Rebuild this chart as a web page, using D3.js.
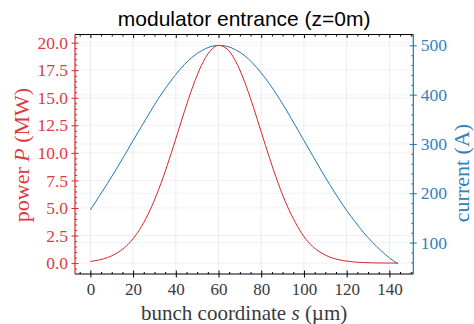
<!DOCTYPE html>
<html>
<head>
<meta charset="utf-8">
<script src="https://cdn.jsdelivr.net/npm/d3@7"></script>
<style>
  body { margin: 0; background: #fff; }
  text { font-family: 'Liberation Serif', serif; }
</style>
</head>
<body>
<svg id="chart"></svg>
<script>
/* données */
const sPos = [0,4,8,12,16,20,24,28,32,36,40,44,48,52,56,60,64,68,72,76,80,84,88,92,96,100,104,108,112,116,120,124,128,132,136,140,144]
const power = [0.15,0.28,0.50,0.86,1.41,2.22,3.34,4.83,6.69,8.87,11.28,13.74,16.04,17.94,19.22,19.75,19.43,18.32,16.56,14.34,11.90,9.46,7.21,5.26,3.68,2.40,1.52,0.94,0.55,0.32,0.18,0.09,0.05,0.02,0.01,0.005,0]
const current = [166,193,220,248,277,307,336,365,393,418,441,461,477,489,497,500,498,491,480,464,444,421,395,367,337,307,277,247,218,191,165,142,120,101,84,69,57]

const xTicks = [0,20,40,60,80,100,120,140]
const powerTicks = [0,2.5,5,7.5,10,12.5,15,17.5,20]
const currentTicks = [100,200,300,400,500]

const title = 'modulator entrance (z=0m)'

const red = '#d62728', blue = '#1f77b4'
const redText = '#dc3a3f', blueText = '#2f82bd'

const width = 474, height = 324
const margin = {top: 34.5, right: 60.7, bottom: 50, left: 75}

const svg = d3.select('#chart').attr('width', width).attr('height', height)

/* échelles */
const xScale = d3.scaleLinear().domain([-7.2, 151.2]).range([margin.left, width - margin.right])
const yP = d3.scaleLinear().domain([-0.99, 20.74]).range([height - margin.bottom, margin.top])
const yI = d3.scaleLinear().domain([36.3, 522]).range([height - margin.bottom, margin.top])

const x0 = margin.left, x1 = width - margin.right
const y0 = height - margin.bottom, y1 = margin.top

/* grilles */
const grid = svg.append('g')
grid.selectAll('.gx').data(xTicks).enter().append('line')
    .attr('x1', d => xScale(d)).attr('x2', d => xScale(d))
    .attr('y1', y1).attr('y2', y0)
    .attr('stroke', '#000').attr('stroke-opacity', 0.07)
grid.selectAll('.gp').data(powerTicks).enter().append('line')
    .attr('x1', x0).attr('x2', x1)
    .attr('y1', d => yP(d)).attr('y2', d => yP(d))
    .attr('stroke', red).attr('stroke-opacity', 0.08)
grid.selectAll('.gi').data(currentTicks).enter().append('line')
    .attr('x1', x0).attr('x2', x1)
    .attr('y1', d => yI(d)).attr('y2', d => yI(d))
    .attr('stroke', blue).attr('stroke-opacity', 0.08)

/* courbes */
const pts = sPos.map((s, i) => ({s: s, p: power[i], c: current[i]}))
svg.append('path').datum(pts)
    .attr('fill', 'none').attr('stroke', red).attr('stroke-width', 1)
    .attr('d', d3.line().x(d => xScale(d.s)).y(d => yP(d.p)).curve(d3.curveMonotoneX))
svg.append('path').datum(pts)
    .attr('fill', 'none').attr('stroke', blue).attr('stroke-width', 1)
    .attr('d', d3.line().x(d => xScale(d.s)).y(d => yI(d.c)).curve(d3.curveMonotoneX))

/* axes */
const fixMajor = (g, horiz) => {
    g.select('.domain').remove()
    g.selectAll('.tick line').each(function() {
        const l = d3.select(this)
        if (horiz) l.attr('y1', -3.5).attr('y2', 3.5)
        else l.attr('x1', -3.5).attr('x2', 3.5)
    })
}

const minorX = d3.range(-5, 151, 5).filter(d => d % 20 != 0)
const minorP = d3.range(-0.5, 20.6, 0.5).filter(d => Math.abs(d / 2.5 - Math.round(d / 2.5)) > 1e-6)
const minorI = d3.range(40, 521, 20).filter(d => d % 100 != 0)

// bas
const gx = svg.append('g').attr('transform', 'translate(0,' + y0 + ')')
    .call(d3.axisBottom(xScale).tickValues(xTicks).tickFormat(d3.format('d')).tickSize(3.5).tickPadding(5))
fixMajor(gx, true)
gx.selectAll('text').attr('font-size', 17).attr('fill', '#3a3a3a').attr('font-family', "'Liberation Serif', serif")
svg.append('g').attr('transform', 'translate(0,' + y0 + ')')
    .call(d3.axisBottom(xScale).tickValues(minorX).tickFormat('').tickSize(-2))
    .call(g => g.select('.domain').remove())

// haut
svg.append('g').attr('transform', 'translate(0,' + y1 + ')')
    .call(d3.axisTop(xScale).tickValues(xTicks).tickFormat('').tickSize(-3.5))
    .call(g => g.select('.domain').remove())
svg.append('g').attr('transform', 'translate(0,' + y1 + ')')
    .call(d3.axisTop(xScale).tickValues(minorX).tickFormat('').tickSize(-2))
    .call(g => g.select('.domain').remove())

// gauche
const gl = svg.append('g').attr('transform', 'translate(' + x0 + ',0)')
    .call(d3.axisLeft(yP).tickValues(powerTicks).tickFormat(d3.format('.1f')).tickSize(3.5).tickPadding(3.5))
fixMajor(gl, false)
gl.selectAll('line').attr('stroke', red)
gl.selectAll('text').attr('font-size', 17.5).attr('fill', redText).attr('font-family', "'Liberation Serif', serif")
svg.append('g').attr('transform', 'translate(' + x0 + ',0)')
    .call(d3.axisLeft(yP).tickValues(minorP).tickFormat('').tickSize(-2))
    .call(g => { g.select('.domain').remove(); g.selectAll('line').attr('stroke', red) })

// droite
const gr = svg.append('g').attr('transform', 'translate(' + x1 + ',0)')
    .call(d3.axisRight(yI).tickValues(currentTicks).tickFormat(d3.format('d')).tickSize(3.5).tickPadding(4))
fixMajor(gr, false)
gr.selectAll('line').attr('stroke', blue)
gr.selectAll('text').attr('font-size', 17.5).attr('fill', blueText).attr('font-family', "'Liberation Serif', serif")
svg.append('g').attr('transform', 'translate(' + x1 + ',0)')
    .call(d3.axisRight(yI).tickValues(minorI).tickFormat('').tickSize(-2))
    .call(g => { g.select('.domain').remove(); g.selectAll('line').attr('stroke', blue) })

/* cadre */
svg.append('line').attr('x1', x0).attr('x2', x1).attr('y1', y1).attr('y2', y1).attr('stroke', '#000').attr('stroke-width', 1.2)
svg.append('line').attr('x1', x0).attr('x2', x1).attr('y1', y0).attr('y2', y0).attr('stroke', '#000').attr('stroke-width', 1.2)
svg.append('line').attr('x1', x0).attr('x2', x0).attr('y1', y1).attr('y2', y0).attr('stroke', red).attr('stroke-width', 1.2)
svg.append('line').attr('x1', x1).attr('x2', x1).attr('y1', y1).attr('y2', y0).attr('stroke', blue).attr('stroke-width', 1.2)

/* titres */
svg.append('text')
    .attr('x', (x0 + x1) / 2).attr('y', 26)
    .attr('text-anchor', 'middle')
    .style('font-family', "'Liberation Sans', Arial, sans-serif")
    .style('font-size', '21px')
    .text(title)

const xl = svg.append('text')
    .attr('x', (x0 + x1) / 2).attr('y', 319.5)
    .attr('text-anchor', 'middle')
    .style('font-size', '21px').attr('fill', '#3a3a3a')
xl.append('tspan').text('bunch coordinate ')
xl.append('tspan').style('font-style', 'italic').text('s')
xl.append('tspan').text(' (\u00b5m)')

const yl = svg.append('text')
    .attr('transform', 'translate(29,' + 155 + ') rotate(-90)')
    .attr('text-anchor', 'middle')
    .style('font-size', '22px').attr('fill', redText)
yl.append('tspan').text('power ')
yl.append('tspan').style('font-style', 'italic').text('P')
yl.append('tspan').text(' (MW)')

svg.append('text')
    .attr('transform', 'translate(469,' + 173 + ') rotate(-90)')
    .attr('text-anchor', 'middle')
    .style('font-size', '22px').attr('fill', blueText)
    .text('current (A)')
</script>
</body>
</html>
